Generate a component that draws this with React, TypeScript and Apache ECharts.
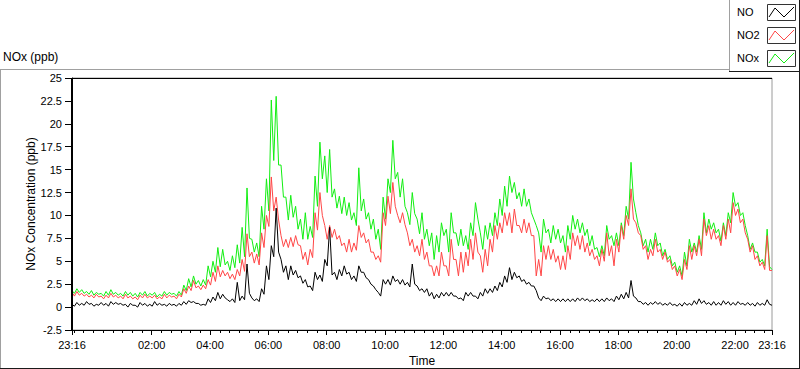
import React, { useEffect, useRef } from "react";
import * as echarts from "echarts";

// Samples every 5 minutes, starting at 23:16 (24 h window)
const STEP_MIN = 5;
const START_CLOCK = "23:16";

const NOX_PPB = [
  1.8,1.5, 2.0,1.6, 1.9,1.5, 1.7,1.4, 1.8,1.3, 1.6,1.4, 1.5,1.2, 1.7,1.3, 1.9,1.4, 1.6,1.3,
  1.5,1.2, 1.7,1.3, 1.6,1.2, 1.5,1.1, 1.6,1.3, 1.7,1.2, 1.5,1.3, 1.6,1.1, 1.4,1.2, 1.7,1.3,
  1.6,1.4, 1.5,1.2, 1.7,1.3, 2.4,1.8, 3.1,2.2, 3.4,2.5, 2.9,2.3, 3.0,2.4, 4.5,3.3, 5.0,3.8,
  6.5,4.4, 6.3,4.6, 5.0,4.0, 5.6,4.3, 6.8,4.8, 8.7,5.5, 13.0,7.5, 7.4,6.0, 7.0,5.5, 11.0,8.5,
  14.0,10.5, 22.6,16.0, 23.0,15.5, 15.5,12.0, 12.0,9.5, 12.2,9.8, 11.0,8.5, 9.6,7.4, 10.3,7.4, 8.8,7.6,
  14.3,11.0, 18.0,14.0, 16.5,12.5, 17.2,12.0, 12.9,10.8, 12.1,10.2, 12.0,10.0, 11.4,9.5, 10.3,8.9, 15.2,10.5,
  11.8,9.6, 10.3,8.5, 9.6,7.4, 8.5,6.3, 12.0,9.6, 14.0,12.5, 18.2,14.0, 14.7,12.0, 14.0,11.0, 10.3,9.0,
  12.5,10.2, 9.6,8.0, 10.3,7.4, 8.5,6.7, 8.1,5.2, 7.8,6.0, 9.2,7.8, 8.5,6.0, 10.3,8.1, 8.1,6.7,
  8.5,6.7, 7.8,6.3, 9.2,7.8, 11.4,9.6, 8.1,6.3, 8.9,7.4, 9.2,7.8, 10.3,8.9, 11.8,10.0, 13.2,11.0,
  14.3,12.5, 13.6,11.8, 12.5,11.0, 12.9,11.0, 11.8,10.3, 9.6,8.9, 8.1,6.0, 9.6,8.1, 8.5,7.0, 8.9,7.4,
  8.5,7.0, 7.8,6.0, 8.9,7.4, 10.0,8.5, 9.6,8.1, 9.2,7.8, 8.5,6.7, 7.8,6.3, 6.5,5.5, 6.7,5.6,
  8.9,7.4, 7.8,6.7, 8.1,6.7, 9.2,7.8, 11.0,9.6, 15.8,11.8, 10.3,8.9, 8.1,6.7, 7.4,6.0, 7.4,6.3,
  8.1,6.7, 7.0,5.6, 6.3,5.2, 5.6,4.5, 4.9,3.8, 4.5,3.4, 6.0,4.5, 7.4,6.0, 7.0,6.0, 7.8,6.3,
  10.3,8.1, 9.6,8.5, 9.2,8.1, 8.5,7.2, 9.2,7.8, 10.3,9.2, 12.5,11.0, 11.4,10.0, 10.3,8.9, 7.8,6.3,
  7.0,6.0, 6.0,4.9, 5.2,4.5, 8.5,4.4, 4.1,
];

const NO2_PPB = [
  1.6,1.2, 1.7,1.3, 1.5,1.2, 1.4,1.1, 1.3,1.0, 1.4,1.1, 1.2,0.9, 1.3,1.0, 1.5,1.1, 1.3,1.0,
  1.2,0.9, 1.4,1.0, 1.2,0.9, 1.1,0.8, 1.3,1.0, 1.4,1.0, 1.2,1.0, 1.3,0.9, 1.1,0.9, 1.4,1.0,
  1.3,1.1, 1.2,0.9, 1.4,1.1, 2.0,1.5, 2.3,1.8, 2.9,2.1, 2.3,1.9, 2.4,2.0, 3.0,2.4, 3.8,2.8,
  4.5,3.3, 4.0,3.4, 3.8,3.1, 3.6,3.0, 4.1,3.4, 5.2,3.9, 8.0,5.5, 6.0,4.8, 5.8,4.6, 8.1,6.5,
  10.0,8.8, 14.2,10.5, 12.0,9.5, 7.8,6.6, 7.4,6.5, 7.6,6.6, 7.8,6.8, 6.7,5.2, 6.0,4.6, 6.3,5.4,
  10.3,8.4, 12.5,10.0, 8.9,7.4, 8.9,7.6, 8.5,7.4, 7.8,6.7, 7.0,6.0, 7.4,6.0, 7.0,6.2, 8.9,7.6,
  8.1,7.0, 7.4,6.0, 6.0,5.2, 5.6,4.9, 10.3,8.9, 12.1,10.2, 13.6,11.0, 10.0,9.2, 10.3,9.0, 8.1,6.7,
  7.4,6.0, 6.7,5.6, 7.4,5.2, 6.0,4.5, 4.5,3.4, 4.5,3.4, 6.0,4.5, 4.5,3.4, 7.4,5.2, 5.2,3.4,
  6.0,3.8, 6.0,4.5, 7.4,5.2, 8.1,6.0, 5.6,3.8, 6.3,4.5, 7.4,6.0, 8.9,7.4, 9.2,8.1, 10.3,8.9,
  10.3,8.1, 10.7,8.9, 8.9,8.1, 9.6,8.1, 9.2,7.8, 7.8,3.4, 5.2,3.4, 6.7,5.2, 6.7,5.2, 6.3,4.9,
  5.6,4.1, 5.6,4.1, 6.7,5.2, 8.1,6.7, 7.8,6.3, 7.8,6.0, 7.0,5.6, 6.3,5.2, 5.6,4.5, 6.3,5.0,
  8.1,5.6, 6.7,4.5, 7.4,6.0, 8.9,7.4, 10.0,8.9, 12.9,9.6, 9.2,8.1, 7.8,6.3, 6.7,5.2, 6.3,5.6,
  7.4,6.0, 6.3,5.2, 6.0,4.9, 5.2,4.1, 4.5,3.4, 4.1,3.0, 5.2,4.1, 6.7,5.2, 6.7,5.6, 7.4,5.6,
  9.6,7.8, 8.9,7.4, 8.5,7.4, 7.8,6.7, 8.9,7.4, 9.6,8.1, 11.4,10.0, 10.7,9.2, 9.6,8.1, 7.4,6.0,
  6.7,5.2, 5.6,4.5, 4.9,4.1, 7.8,4.0, 4.0,
];

const NO_PPB = [
  0.3,0.1, 0.5,0.2, 0.4,0.2, 0.6,0.3, 0.4,0.1, 0.3,0.2, 0.5,0.2, 0.4,0.1, 0.6,0.3, 0.5,0.3,
  0.4,0.2, 0.3,0.0, 0.4,0.2, 0.2,0.0, 0.5,0.2, 0.4,0.1, 0.3,0.1, 0.6,0.2, 0.4,0.2, 0.3,0.1,
  0.4,0.2, 0.3,0.1, 0.4,0.2, 0.6,0.3, 0.7,0.5, 0.6,0.4, 0.4,0.2, 0.3,0.2, 0.9,0.5, 1.1,0.7,
  1.6,0.9, 1.4,1.0, 0.8,0.6, 0.9,0.5, 2.7,0.7, 1.2,0.8, 4.7,1.5, 1.0,0.7, 0.9,0.6, 2.0,1.4,
  4.5,3.0, 6.7,5.5, 10.8,6.0, 5.2,3.8, 4.5,3.0, 4.5,3.5, 4.0,3.2, 3.4,2.6, 3.0,2.2, 2.3,1.8,
  3.8,3.0, 3.5,2.8, 5.2,4.5, 8.7,3.5, 3.8,3.0, 4.1,3.4, 4.5,3.6, 3.8,3.0, 3.4,2.8, 4.5,3.8,
  3.8,3.2, 3.0,2.5, 2.3,1.9, 1.6,1.2, 3.0,2.5, 3.0,2.4, 3.4,2.8, 3.0,2.5, 3.0,2.4, 2.7,2.2,
  4.7,2.5, 2.3,1.8, 2.0,1.6, 2.0,1.2, 1.6,0.9, 1.4,1.0, 1.6,1.2, 1.6,1.2, 1.6,1.2, 1.2,0.9,
  1.0,0.7, 1.6,1.2, 1.6,1.2, 1.2,0.9, 1.6,1.2, 2.0,1.5, 2.0,1.6, 2.3,1.8, 2.7,2.2, 3.4,2.7,
  4.3,3.0, 3.8,3.2, 3.4,2.8, 3.0,2.5, 2.7,2.3, 2.3,1.8, 1.0,0.7, 1.2,0.9, 1.0,0.7, 0.9,0.6,
  0.9,0.6, 0.9,0.6, 0.9,0.6, 0.9,0.6, 1.0,0.7, 1.0,0.7, 0.9,0.6, 0.8,0.6, 0.9,0.6, 0.9,0.6,
  1.0,0.7, 0.9,0.6, 1.2,0.8, 1.4,0.9, 1.6,1.0, 2.9,1.2, 1.0,0.6, 0.6,0.3, 0.5,0.2, 0.5,0.3,
  0.6,0.3, 0.5,0.2, 0.4,0.2, 0.5,0.2, 0.3,0.1, 0.4,0.1, 0.5,0.2, 0.4,0.2, 0.7,0.3, 0.9,0.4,
  0.7,0.3, 0.5,0.2, 0.6,0.2, 0.5,0.2, 0.7,0.3, 0.6,0.2, 0.5,0.2, 0.6,0.3, 0.4,0.2, 0.5,0.2,
  0.4,0.1, 0.5,0.2, 0.4,0.2, 0.8,0.3, 0.2,
];

const X_TICK_LABELS = ["23:16", "02:00", "04:00", "06:00", "08:00", "10:00", "12:00", "14:00", "16:00", "18:00", "20:00", "22:00", "23:16"];
const MINOR_TICK_MIN = 20;
const Y_MIN = -2.5;
const Y_MAX = 25;
const Y_STEP = 2.5;

const SERIES_NAMES = ["NO", "NO2", "NOx"];
const COLORS = { NO: "#000000", NO2: "#ff4646", NOx: "#12ee12" };

const FONT = '"Liberation Sans", Arial, sans-serif';

const clockToMin = (s: string) => {
  const [h, m] = s.split(":").map(Number);
  return h * 60 + m;
};
const START_MIN = clockToMin(START_CLOCK);
const SPAN = 1440;
const majorTicks = X_TICK_LABELS.map((s, i) =>
  i === X_TICK_LABELS.length - 1 ? SPAN : (clockToMin(s) - START_MIN + 1440) % 1440
);
const minorTicks: number[] = [];
{
  const first = (MINOR_TICK_MIN - (START_MIN % MINOR_TICK_MIN)) % MINOR_TICK_MIN;
  for (let t = first; t < SPAN; t += MINOR_TICK_MIN) minorTicks.push(t);
}
const fmt = (t: number) => {
  const m = (START_MIN + Math.round(t)) % 1440;
  const hh = String(Math.floor(m / 60)).padStart(2, "0");
  const mm = String(m % 60).padStart(2, "0");
  return `${hh}:${mm}`;
};
const toXY = (arr: number[]) => arr.map((v, i) => [i * STEP_MIN, v]);

const GRID = { left: 72, top: 78, width: 700, height: 252 };

// a filled thin bar (used for frame borders)
const bar = (x: number, y: number, w: number, h: number, fill: string, z = 10) => ({
  type: "rect",
  z,
  silent: true,
  shape: { x, y, width: w, height: h },
  style: { fill, stroke: "none" },
});

export default function App() {
  const ref = useRef<HTMLDivElement>(null);
  useEffect(() => {
    if (!ref.current) return;
    const chart = echarts.init(ref.current, undefined, { renderer: "svg" });

    const legendGraphics: any[] = [];
    SERIES_NAMES.forEach((name, i) => {
      const by = 4 + i * 23;
      legendGraphics.push(
        {
          type: "text",
          z: 20,
          left: 737,
          top: by + 2,
          style: { text: name, fontSize: 11, fontFamily: FONT, fill: "#000" },
        },
        {
          type: "rect",
          z: 20,
          shape: { x: 767.5, y: by + 0.5, width: 28, height: 16 },
          style: { fill: "#fff", stroke: "#333", lineWidth: 1 },
        },
        {
          type: "polyline",
          z: 21,
          shape: {
            points: [
              [769, by + 13],
              [775, by + 4],
              [784, by + 13],
              [794, by + 3],
            ],
          },
          style: { stroke: (COLORS as any)[name], lineWidth: 1, fill: "none" },
        }
      );
    });

    const axisText = { fontSize: 11, fontFamily: FONT, color: "#000" };
    const gx0 = GRID.left;
    const gx1 = GRID.left + GRID.width;
    const gy0 = GRID.top;
    const gy1 = GRID.top + GRID.height;

    chart.setOption({
      animation: false,
      textStyle: { fontFamily: FONT },
      title: {
        text: "NOx (ppb)",
        left: 3,
        top: 51,
        padding: 0,
        textStyle: { fontSize: 12, fontWeight: "normal", color: "#000", fontFamily: FONT },
      },
      grid: {
        ...GRID,
        containLabel: false,
        outerBoundsMode: "none",
        show: true,
        backgroundColor: "transparent",
        borderColor: "#9a9a9a",
        borderWidth: 1,
      },
      xAxis: [
        {
          type: "value",
          min: 0,
          max: SPAN,
          position: "bottom",
          name: "Time",
          nameLocation: "middle",
          nameGap: 25,
          nameMoveOverlap: false,
          nameTextStyle: { fontSize: 12, color: "#000", fontFamily: FONT },
          axisLine: { show: true, onZero: false, lineStyle: { color: "#000", width: 1 } },
          axisTick: { show: true, length: 5, customValues: majorTicks, lineStyle: { color: "#000" } },
          axisLabel: { ...axisText, customValues: majorTicks, formatter: (v: number) => fmt(v), margin: 9, hideOverlap: false },
          splitLine: { show: false },
        },
        {
          type: "value",
          min: 0,
          max: SPAN,
          position: "bottom",
          axisLine: { show: false, onZero: false },
          axisTick: { show: true, length: 3, customValues: minorTicks, lineStyle: { color: "#000" } },
          axisLabel: { show: false },
          splitLine: { show: false },
        },
      ],
      yAxis: [
        {
          type: "value",
          min: Y_MIN,
          max: Y_MAX,
          interval: Y_STEP,
          position: "left",
          name: "NOx Concentration (ppb)",
          nameLocation: "middle",
          nameGap: 35,
          nameMoveOverlap: false,
          nameTextStyle: { fontSize: 12, color: "#000", fontFamily: FONT },
          axisLine: { show: true, onZero: false, lineStyle: { color: "#000" } },
          axisTick: { show: true, length: 7, lineStyle: { color: "#000" } },
          axisLabel: { ...axisText, margin: 10 },
          splitLine: { show: false },
        },
      ],
      series: [
        { name: "NOx", data: toXY(NOX_PPB), color: COLORS.NOx },
        { name: "NO2", data: toXY(NO2_PPB), color: COLORS.NO2 },
        { name: "NO", data: toXY(NO_PPB), color: COLORS.NO },
      ].map((s) => ({
        type: "line",
        name: s.name,
        data: s.data,
        xAxisIndex: 0,
        yAxisIndex: 0,
        showSymbol: false,
        symbol: "none",
        silent: true,
        lineStyle: { color: s.color, width: 1 },
        itemStyle: { color: s.color },
      })),
      graphic: [
        // outer frame
        bar(0, 69, 729, 1, "#a0a0a0"),
        bar(0, 69, 1, 300, "#a0a0a0"),
        bar(0, 368, 800, 1, "#1a1a1a"),
        bar(799, 0, 1, 369, "#1a1a1a"),
        // plot box (top and left dark)
        bar(gx0, gy0, gx1 - gx0, 1, "#000", 30),
        bar(gx0 - 1, gy0, 2, gy1 - gy0 + 1, "#000", 30),
        // legend box
        bar(729, 0, 70, 71, "#fff", 15),
        bar(729, 0, 1, 72, "#a0a0a0", 16),
        bar(729, 71, 71, 1, "#1a1a1a", 16),
        bar(799, 0, 1, 72, "#1a1a1a", 16),
        ...legendGraphics,
      ],
    });
    return () => chart.dispose();
  }, []);

  return (
    <div
      ref={ref}
      style={{ position: "fixed", left: 0, top: 0, width: 800, height: 369, background: "#fff" }}
    />
  );
}
